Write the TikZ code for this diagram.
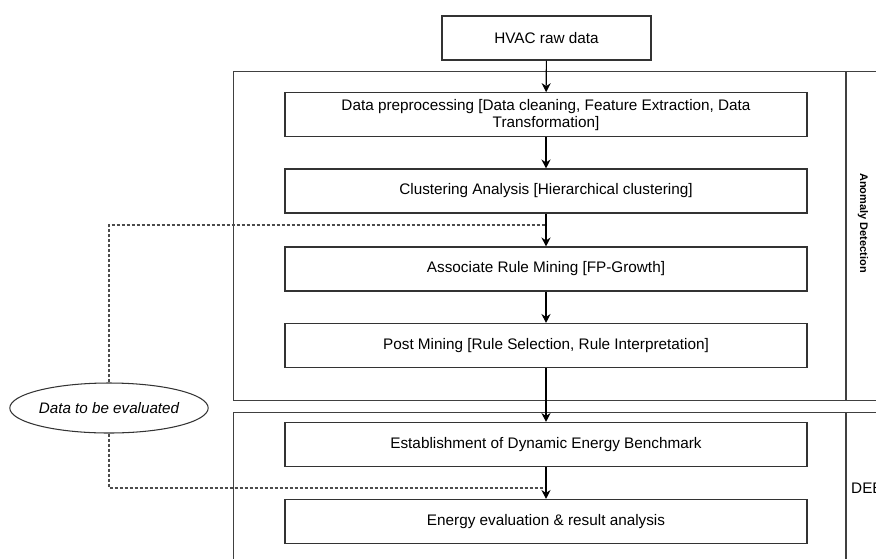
\documentclass[tikz,border=0pt]{standalone}
\usepackage{fontspec}
\setmainfont{Liberation Sans}
\usetikzlibrary{arrows.meta,shapes.geometric}
\begin{document}
\begin{tikzpicture}[x=1pt,y=-1pt,
  stepbox/.style={draw=black!80, line width=1.05pt, fill=white, minimum width=522pt, minimum height=44pt, align=center, inner sep=2pt, font=\fontsize{15.3}{17}\selectfont},
  poolbox/.style={draw=black!75, line width=1.2pt},
  flow/.style={draw=black, line width=1.1pt, -{Stealth[length=9pt,width=9pt]}},
  feed/.style={draw=black!70, line width=1.05pt, dash pattern=on 3pt off 2pt},
  lbl/.style={font=\fontsize{15.3}{17}\selectfont}]
\useasboundingbox (0,0) rectangle (876,558);
\clip (0,0) rectangle (876,558);
% pools
\node[poolbox, rectangle, anchor=north west, minimum width=700pt, minimum height=329pt, inner sep=0pt] (pool1) at (233,71) {};
\node[poolbox, rectangle, anchor=north west, minimum width=700pt, minimum height=200pt, inner sep=0pt] (pool2) at (233,412) {};
\coordinate (l1t) at (846,71);
\coordinate (l1b) at (846,400);
\coordinate (l2t) at (846,412);
\coordinate (l2b) at (846,612);
\draw[poolbox] (l1t) -- (l1b);
\draw[poolbox] (l2t) -- (l2b);
\node[rotate=-90, font=\fontsize{11}{13}\selectfont\bfseries] (lab1) at (863,223) {Anomaly Detection};
\node[anchor=west, inner sep=0pt, lbl] (lab2) at (851,488) {DEB};
% steps
\node[stepbox, minimum width=209pt] (hvac) at (546.5,38) {HVAC raw data};
\node[stepbox] (dp) at (546,114.7) {Data preprocessing [Data cleaning, Feature Extraction, Data\\Transformation]};
\node[stepbox] (ca) at (546,191) {Clustering Analysis [Hierarchical clustering]};
\node[stepbox] (ar) at (546,269) {Associate Rule Mining [FP-Growth]};
\node[stepbox] (pm) at (546,345.5) {Post Mining [Rule Selection, Rule Interpretation]};
\node[stepbox] (ed) at (546,444.5) {Establishment of Dynamic Energy Benchmark};
\node[stepbox] (ee) at (546,521.5) {Energy evaluation \& result analysis};
% ellipse
\node[draw=black!80, line width=1.05pt, ellipse, minimum width=198pt, minimum height=50pt, inner sep=0pt, fill=white, font=\fontsize{15.2}{17}\selectfont\itshape] (ell) at (109,408) {Data to be evaluated};
% joins
\coordinate (j1) at (546,225);
\coordinate (j2) at (546,488);
% feedback dashed
\draw[feed] (ell.north) |- (j1);
\draw[feed] (ell.south) |- (j2);
% flow arrows
\draw[flow] (hvac) -- (dp);
\draw[flow] (dp) -- (ca);
\draw[flow] (ca) -- (ar);
\draw[flow] (ar) -- (pm);
\draw[flow] (pm) -- (ed);
\draw[flow] (ed) -- (ee);
\end{tikzpicture}
\end{document}
